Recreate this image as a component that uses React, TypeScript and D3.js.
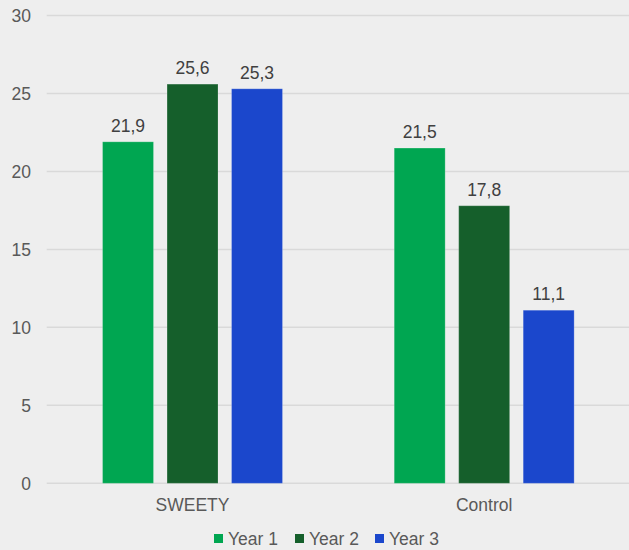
import React, { useEffect, useRef } from "react";
import * as d3 from "d3";

const groups = ["SWEETY", "Control"];
const years = ["Year 1", "Year 2", "Year 3"];
const year1 = [21.9, 21.5];
const year2 = [25.6, 17.8];
const year3 = [25.3, 11.1];
const colors = ["#00a651", "#155f2b", "#1b47cc"];
const yTicks = [0, 5, 10, 15, 20, 25, 30];

const App = () => {
  const width = 629;
  const height = 550;
  const svgRef = useRef(null);

  useEffect(() => {
    const svg = d3.select(svgRef.current);
    svg.selectAll("*").remove();

    const font = "'Liberation Sans', Arial, sans-serif";
    const textColor = "#595959";

    svg.append("rect")
      .attr("width", width)
      .attr("height", height)
      .attr("fill", "#eeeeee");

    const y = d3.scaleLinear().domain([0, 30]).range([483.3, 15.5]);
    const x0 = d3.scaleBand().domain(groups).range([46.7, 630]);
    const x1 = d3.scaleBand().domain(years).range([0, x0.bandwidth()])
      .paddingInner(0.21).paddingOuter(0.866);

    // gridlines
    svg.append("g")
      .selectAll("line")
      .data(yTicks)
      .join("line")
      .attr("x1", 46.7)
      .attr("x2", width)
      .attr("y1", (d) => y(d))
      .attr("y2", (d) => y(d))
      .attr("stroke", "#d9d9d9")
      .attr("stroke-width", 1.5);

    // y tick labels
    svg.append("g")
      .selectAll("text")
      .data(yTicks)
      .join("text")
      .attr("x", 31)
      .attr("y", (d) => y(d))
      .attr("dy", "0.36em")
      .attr("text-anchor", "end")
      .attr("font-family", font)
      .attr("font-size", 17.5)
      .attr("fill", textColor)
      .text((d) => d);

    const rows = groups.map((g, i) => ({
      group: g,
      values: [year1[i], year2[i], year3[i]],
    }));

    const gGroups = svg.append("g")
      .selectAll("g")
      .data(rows)
      .join("g")
      .attr("transform", (d) => `translate(${x0(d.group)},0)`);

    gGroups.selectAll("rect")
      .data((d) => d.values.map((v, j) => ({ year: years[j], v, j })))
      .join("rect")
      .attr("x", (d) => x1(d.year))
      .attr("width", x1.bandwidth())
      .attr("y", (d) => y(d.v))
      .attr("height", (d) => y(0) - y(d.v))
      .attr("fill", (d) => colors[d.j])
      .attr("stroke", "#ffffff")
      .attr("stroke-opacity", 0.2)
      .attr("stroke-width", 1);

    gGroups.selectAll("text")
      .data((d) => d.values.map((v, j) => ({ year: years[j], v, j })))
      .join("text")
      .attr("x", (d) => x1(d.year) + x1.bandwidth() / 2)
      .attr("y", (d) => y(d.v) - 10)
      .attr("text-anchor", "middle")
      .attr("font-family", font)
      .attr("font-size", 17.5)
      .attr("fill", "#404040")
      .text((d) => d.v.toFixed(1).replace(".", ","));

    // category labels
    svg.append("g")
      .selectAll("text")
      .data(groups)
      .join("text")
      .attr("x", (d) => x0(d) + x0.bandwidth() / 2)
      .attr("y", 511)
      .attr("text-anchor", "middle")
      .attr("font-family", font)
      .attr("font-size", 17.5)
      .attr("fill", textColor)
      .text((d) => d);

    // legend
    const legendX = [214, 295, 375];
    const legend = svg.append("g")
      .selectAll("g")
      .data(years)
      .join("g")
      .attr("transform", (d, i) => `translate(${legendX[i]},534)`);

    legend.append("rect")
      .attr("width", 9)
      .attr("height", 9)
      .attr("fill", (d, i) => colors[i]);

    legend.append("text")
      .attr("x", 14)
      .attr("y", 4.5)
      .attr("dy", "0.36em")
      .attr("font-family", font)
      .attr("font-size", 17.5)
      .attr("fill", textColor)
      .text((d) => d);
  }, []);

  return (
    <svg
      ref={svgRef}
      width={width}
      height={height}
      style={{ position: "absolute", left: 0, top: 0, display: "block" }}
    ></svg>
  );
};

export default App;
